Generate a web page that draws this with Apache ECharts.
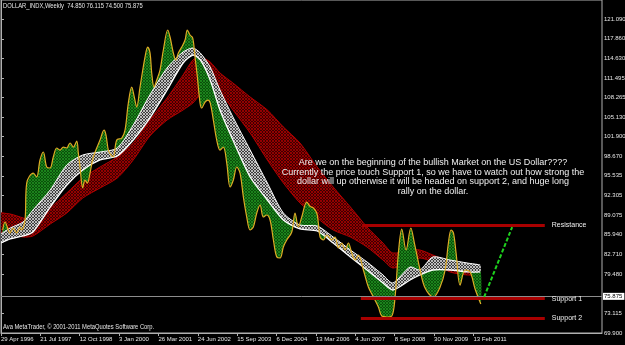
<!DOCTYPE html>
<html><head><meta charset="utf-8">
<script src="https://cdn.jsdelivr.net/npm/echarts@6/dist/echarts.min.js"></script>
<style>html,body{margin:0;padding:0;background:#000}#c{width:625px;height:345px}</style>
</head><body><div id="c"></div>
<script>
// ---- data (x = week index from 29 Apr 1996, y = index value) ----
const dateLabels = ['29 Apr 1996','21 Jul 1997','12 Oct 1998','3 Jan 2000','26 Mar 2001','24 Jun 2002','15 Sep 2003','6 Dec 2004','13 Mar 2006','4 Jun 2007','8 Sep 2008','30 Nov 2009','13 Feb 2011'];
const dateTickWeeks = [0,64,128,192,256,320,384,448,512,576,640,704,768];
const priceTicks = [121.09,117.86,114.63,111.495,108.265,105.13,101.9,98.67,95.535,92.305,89.075,85.94,82.71,79.48,73.115,69.9];
const priceLine = [[2.8,86.69],[6.5,88.00],[14.6,86.21],[19.5,87.02],[25.5,86.21],[30.9,87.18],[33.7,86.69],[39.0,88.32],[41.8,94.35],[52.5,95.98],[58.0,95.34],[63.4,98.10],[68.8,99.41],[74.3,96.96],[79.7,96.80],[85.0,98.59],[90.6,100.06],[95.9,99.73],[101.3,100.22],[106.8,100.06],[112.2,100.88],[117.6,100.22],[123.1,101.20],[125.7,99.24],[128.5,96.96],[132.8,93.54],[136.6,94.84],[140.3,94.35],[144.7,95.98],[150.1,98.59],[161.0,101.36],[167.5,102.99],[170.7,102.18],[174.5,99.73],[178.9,98.92],[182.6,98.59],[188.1,101.36],[196.3,101.69],[201.6,102.99],[207.0,107.39],[212.5,110.00],[216.7,108.37],[220.6,106.74],[226.0,110.00],[234.1,114.89],[238.5,116.52],[242.3,115.54],[245.0,112.29],[248.8,110.00],[253.2,111.14],[258.5,112.77],[263.9,116.04],[271.1,119.30],[274.8,118.16],[280.2,115.54],[284.1,114.41],[288.3,115.54],[293.8,116.52],[299.2,117.66],[302.9,119.30],[307.3,118.48],[311.7,117.99],[315.4,114.89],[319.2,111.63],[323.6,107.39],[326.3,106.58],[331.7,107.56],[336.6,107.88],[340.2,107.39],[345.2,104.62],[350.7,101.36],[356.1,99.73],[361.5,100.22],[367.0,97.61],[372.4,93.70],[377.7,94.84],[383.3,96.96],[388.6,95.98],[394.0,92.07],[399.5,88.81],[404.9,86.69],[410.2,87.18],[415.8,89.46],[421.1,90.77],[426.5,88.81],[432.0,89.14],[437.4,88.32],[442.8,85.06],[448.3,82.29],[453.7,82.13],[459.0,83.92],[464.5,85.06],[472.7,86.36],[478.0,89.46],[483.4,87.18],[488.9,88.81],[497.1,91.25],[502.4,90.55],[507.8,90.28],[513.3,89.46],[515.9,87.83],[518.7,85.55],[524.1,85.06],[529.6,85.88],[537.7,85.06],[543.1,85.55],[548.5,83.76],[554.0,84.57],[559.3,83.43],[564.7,84.57],[570.2,82.94],[575.6,81.80],[581.0,82.62],[589.1,80.17],[597.2,77.40],[605.4,75.77],[613.5,74.14],[619.0,72.67],[627.2,72.51],[635.3,72.67],[640.6,75.77],[646.0,82.94],[651.5,86.85],[658.5,83.43],[666.2,87.02],[672.0,84.57],[681.3,80.17],[689.4,77.24],[702.9,75.77],[713.8,77.40],[722.0,80.17],[727.3,84.57],[731.7,86.69],[735.5,86.21],[739.8,82.94],[746.3,77.72],[754.5,80.17],[762.6,79.84],[770.7,77.07],[780.0,74.63]];
const bandWeeks = [0,15,36,52,80,107,133,161,189,215,242,270,296,312,324,340,356,377,405,433,459,486,514,540,568,595,621,637,665,681,702,730,758,779];
const whiteTop = [86.04,87.02,88.00,89.95,93.21,97.29,98.92,99.41,100.06,103.81,108.70,113.10,115.71,116.36,115.55,113.27,109.52,105.12,99.74,94.36,89.47,87.51,87.35,85.55,83.43,81.48,79.36,78.05,80.66,80.17,82.29,81.80,81.31,80.99];
const whiteBot = [84.57,85.23,85.72,86.37,90.44,94.03,96.48,98.11,98.76,101.37,104.95,109.52,113.92,115.22,114.41,111.15,106.26,101.37,95.33,91.58,88.32,86.86,86.53,84.57,82.29,80.17,78.05,76.91,78.54,79.36,80.17,80.17,79.85,79.85];
const redA = [89.47,89.30,88.65,88.00,90.28,92.73,95.17,96.96,98.59,100.88,104.63,108.21,111.96,114.41,114.90,114.08,112.29,110.66,108.38,106.26,103.49,100.88,96.96,93.70,90.44,87.18,84.57,82.94,83.43,83.43,82.62,81.48,80.50,80.17];
const redB = [86.37,86.04,85.55,85.72,87.67,89.47,91.91,93.54,95.17,98.11,102.02,104.63,106.26,107.40,108.70,109.03,109.03,106.26,102.51,98.11,94.36,91.10,88.65,86.69,85.55,83.92,81.80,80.50,81.48,82.13,81.48,79.85,79.36,79.36];
const currentPrice = 75.875;
const levels = [
  {name:'Resistance', value:87.51, from:587, to:884},
  {name:'Support 1', value:75.49, from:585, to:884},
  {name:'Support 2', value:72.35, from:585, to:884}
];
const projection = [[785.4,75.77],[831,87.18]];
const titleText = 'DOLLAR_INDX,Weekly  74.850 76.115 74.500 75.875';
const copyrightText = 'Ava MetaTrader, \u00a9 2001-2011 MetaQuotes Software Corp.';
const noteText = 'Are we on the beginning of the bullish Market on the US Dollar????\nCurrently the price touch Support 1, so we have to watch out how strong the\ndollar will up otherwise it will be headed on support 2, and huge long\nrally on the dollar.';

// ---- hatch patterns ----
function hatch(bg, fg, size, lw){
  const c = document.createElement('canvas'); c.width = size; c.height = size;
  const g = c.getContext('2d');
  if (bg){ g.fillStyle = bg; g.fillRect(0,0,size,size); }
  g.strokeStyle = fg; g.lineWidth = lw;
  g.beginPath(); g.moveTo(0,0); g.lineTo(size,size); g.moveTo(size,0); g.lineTo(0,size); g.stroke();
  return c;
}
const redPat = {image: hatch('#3c0000','#a80000',3,0.8), repeat:'repeat'};
const greenPat = {image: hatch('#0a4e0a','#1f8f1f',3,0.8), repeat:'repeat'};
const whitePat = {image: hatch('#3c3c3c','#ececec',3,0.7), repeat:'repeat'};

const FONT = 'Liberation Sans';
const chart = echarts.init(document.getElementById('c'), null, {renderer:'canvas'});

function renderBands(params, api){
  const pts = (ws, vs) => ws.map((w,i) => api.coord([w, vs[i]]));
  const rA = pts(bandWeeks, redA), rB = pts(bandWeeks, redB);
  const wT = pts(bandWeeks, whiteTop), wB = pts(bandWeeks, whiteBot);
  const wMid = wT.map((p,i) => [p[0], (p[1]+wB[i][1])/2]);
  const pr = priceLine.map(p => api.coord(p));
  const children = [];
  children.push({type:'polygon', shape:{points: rA.concat(rB.slice().reverse()), smooth:0.25}, style:{fill: redPat}});
  children.push({type:'polyline', shape:{points: rA, smooth:0.25}, style:{stroke:'#b00000', lineWidth:1, fill:null}});
  children.push({type:'polyline', shape:{points: rB, smooth:0.25}, style:{stroke:'#b00000', lineWidth:1, fill:null}});
  children.push({type:'polygon', shape:{points: pr.concat(wMid.slice().reverse()), smooth:0.2}, style:{fill: greenPat}});
  children.push({type:'polygon', shape:{points: wT.concat(wB.slice().reverse()), smooth:0.25}, style:{fill: whitePat}});
  children.push({type:'polyline', shape:{points: wT, smooth:0.25}, style:{stroke:'#ffffff', lineWidth:1, fill:null}});
  children.push({type:'polyline', shape:{points: wB, smooth:0.25}, style:{stroke:'#ffffff', lineWidth:1.3, fill:null}});
  return {type:'group', children};
}

const option = {
  backgroundColor:'#000',
  animation:false,
  textStyle:{fontFamily:FONT},
  grid:{left:1, right:23, top:0, bottom:12, containLabel:false, outerBoundsMode:'none', show:true, borderColor:'#b0b0b0', borderWidth:1, backgroundColor:'#000'},
  xAxis:{type:'value', min:0, max:977, splitLine:{show:false},
    axisLine:{show:true, lineStyle:{color:'#b0b0b0'}},
    axisTick:{show:true, length:3, lineStyle:{color:'#b0b0b0'}, customValues: dateTickWeeks},
    axisLabel:{color:'#e6e6e6', fontSize:6, fontFamily:FONT, align:'left', margin:3, hideOverlap:false, showMinLabel:true, showMaxLabel:true, customValues: dateTickWeeks,
      formatter: v => dateLabels[dateTickWeeks.indexOf(Math.round(v))] || ''}},
  yAxis:{type:'value', position:'right', min:69.9, max:124.19, splitLine:{show:false},
    axisLine:{show:true, lineStyle:{color:'#b0b0b0'}},
    axisTick:{show:true, length:3, lineStyle:{color:'#b0b0b0'}, customValues: priceTicks},
    axisLabel:{color:'#e6e6e6', fontSize:6, fontFamily:FONT, margin:2, hideOverlap:false, showMinLabel:true, showMaxLabel:true, customValues: priceTicks,
      formatter: v => v.toFixed(3)}},
  series:[
    {type:'custom', coordinateSystem:'cartesian2d', renderItem: renderBands, data:[[0,80]], clip:true, silent:true, z:1},
    {type:'line', data: priceLine, smooth:0.35, showSymbol:false, lineStyle:{color:'#e0ac25', width:1.2}, z:3,
      markLine:{silent:true, symbol:['none','none'], precision:3,
        lineStyle:{color:'#8c8c8c', width:1, type:'solid'},
        label:{show:true, position:'end', formatter: () => currentPrice.toFixed(3), color:'#000', backgroundColor:'#fff', fontSize:6, fontFamily:FONT, padding:[1,2,0,1], distance:1},
        data:[{yAxis: currentPrice}]}},
    {type:'line', data:[], z:4,
      markLine:{silent:true, symbol:['none','none'],
        lineStyle:{color:'#a80000', width:3, type:'solid'},
        label:{show:true, position:'end', color:'#f0f0f0', fontSize:7, fontFamily:FONT, distance:7, formatter: p => p.name},
        data: levels.map(l => [{coord:[l.from, l.value], name:l.name}, {coord:[l.to, l.value]}])}},
    {type:'line', data: projection, showSymbol:false, lineStyle:{color:'#1ed21e', width:2, type:[4,2]}, z:5}
  ],
  graphic:[
    {type:'text', x:3, y:3, scaleX:0.83, style:{text:titleText, fill:'#e6e6e6', font:'7px "'+FONT+'"'}, z:10},
    {type:'text', x:3, y:324, scaleX:0.83, style:{text:copyrightText, fill:'#e6e6e6', font:'7px "'+FONT+'"'}, z:10},
    {type:'text', x:433, y:158, style:{text:noteText, fill:'#f0f0f0', font:'9px "'+FONT+'"', align:'center', lineHeight:9.5}, z:10}
  ]
};
chart.setOption(option);
</script></body></html>
